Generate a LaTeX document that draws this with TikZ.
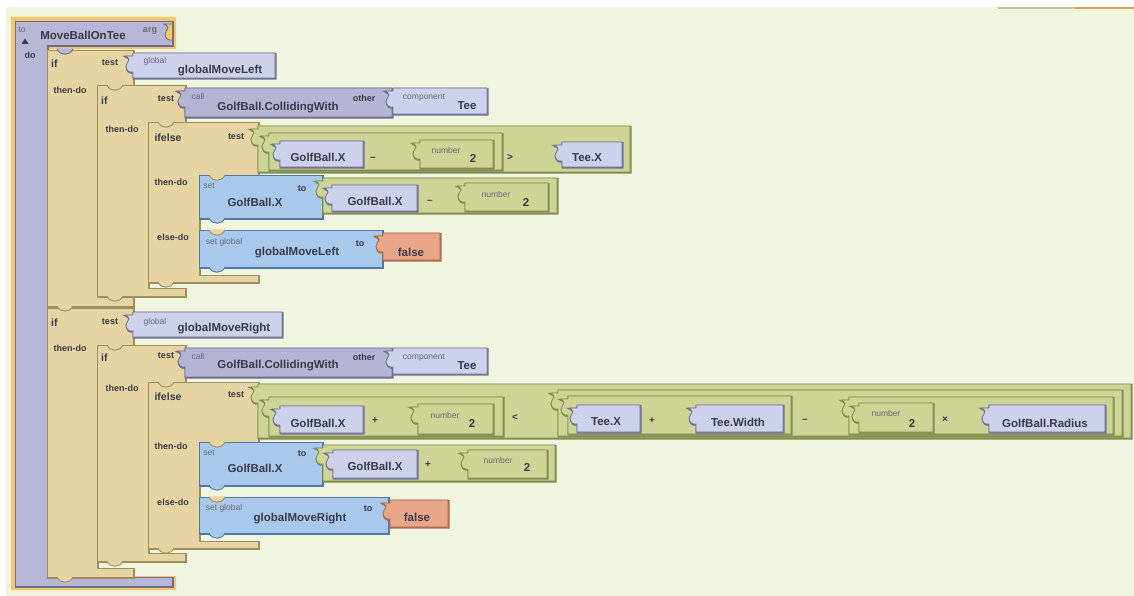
\documentclass[tikz,border=0pt]{standalone}
\usepackage{fontspec}
\setmainfont{Liberation Sans}
\definecolor{bgc}{RGB}{239,245,223}
\definecolor{halo}{RGB}{246,198,106}
\definecolor{procc}{RGB}{182,182,214}
\definecolor{procd}{RGB}{108,108,140}
\definecolor{callc}{RGB}{180,180,212}
\definecolor{calld}{RGB}{108,108,140}
\definecolor{getc}{RGB}{206,209,235}
\definecolor{getd}{RGB}{112,114,146}
\definecolor{tanc}{RGB}{230,212,163}
\definecolor{tand}{RGB}{160,142,92}
\definecolor{grnc}{RGB}{206,211,150}
\definecolor{grnd}{RGB}{128,138,76}
\definecolor{setc}{RGB}{168,201,236}
\definecolor{setd}{RGB}{84,120,166}
\definecolor{falc}{RGB}{234,166,136}
\definecolor{fald}{RGB}{168,104,76}
\definecolor{txt}{RGB}{58,58,74}
\definecolor{smtxt}{RGB}{104,104,124}
\tikzset{
 blk/.style={line width=0.8pt, line join=round,
   preaction={draw=#1, line width=1.8pt, transform canvas={shift={(0.6pt,-0.8pt)}}}},
 tanb/.style={blk=tand, fill=tanc, draw=tand},
 procb/.style={blk=procd, fill=procc, draw=procd},
 callb/.style={blk=calld, fill=callc, draw=calld},
 getb/.style={blk=getd, fill=getc, draw=getd},
 grnb/.style={blk=grnd, fill=grnc, draw=grnd},
 setb/.style={blk=setd, fill=setc, draw=setd},
 falseb/.style={blk=fald, fill=falc, draw=fald},
 lbl/.style={font=\fontsize{11.5}{12}\selectfont\bfseries, text=txt, inner sep=0pt},
 kw/.style={font=\fontsize{9}{10}\selectfont\bfseries, text=txt, inner sep=0pt},
 kwb/.style={font=\fontsize{10.5}{11}\selectfont\bfseries, text=txt, inner sep=0pt},
 sm/.style={font=\fontsize{8.5}{9}\selectfont, text=smtxt, inner sep=0pt},
 op/.style={font=\fontsize{10}{10}\selectfont\bfseries, text=txt, inner sep=0pt},
}
% value block with left puzzle tab: style, x1, y1, x2, y2
\newcommand\vblk[5]{%
 \path[#1] (#2,#3) -- (#4,#3) -- (#4,#5) -- (#2,#5) -- ({#2},{#3+19})
  .. controls ({#2-4},{#3+20}) and ({#2-7},{#3+17}) .. ({#2-7},{#3+13})
  .. controls ({#2-7},{#3+10}) and ({#2-4},{#3+9}) .. ({#2-4},{#3+7})
  .. controls ({#2-4},{#3+5}) and ({#2-6},{#3+4}) .. ({#2-8},{#3+3})
  -- ({#2},{#3+3}) -- cycle;}
% statement tab: fill colour, draw colour, x, y
\newcommand\stab[4]{%
 \fill[#1] ({#3},{#4-0.6}) .. controls ({#3+3},{#4+7}) and ({#3+13},{#4+7}) .. ({#3+16},{#4-0.6}) -- cycle;
 \draw[#2, line width=0.9pt] ({#3},{#4}) .. controls ({#3+3},{#4+7}) and ({#3+13},{#4+7}) .. ({#3+16},{#4});}
\begin{document}
\begin{tikzpicture}[x=1pt,y=-1pt]
\useasboundingbox (0,0) rectangle (1134,596);
\fill[white] (0,0) rectangle (1134,596);
\fill[bgc] (6,7) rectangle (1134,596);
\draw[line width=1.5pt, color={rgb,255:red,196;green,196;blue,160}] (998,8) -- (1075,8);
\draw[line width=1.5pt, color={rgb,255:red,226;green,160;blue,80}] (1075,8) -- (1134,8);

% ---------- procedure ----------
\fill[halo] (11,17) -- (176,17) -- (176,49) -- (47,49) -- (47,576) -- (176,576) -- (176,590) -- (11,590) -- cycle;
\path[procb] (15,21) -- (172,21) -- (172,45) -- (47,45) -- (47,577) -- (172,577) -- (172,586) -- (15,586) -- cycle;
\draw[procd, line width=0.9pt, fill=halo] (172,40) .. controls (168,41) and (165,38) .. (165,34)
  .. controls (165,31) and (168,30) .. (168,28) .. controls (168,26) and (166,25) .. (164,24) -- (172,24);
\node[sm] (pto) at (22,30) {to};
\fill[txt] (21.5,44) -- (28.5,44) -- (25,38.5) -- cycle;
\node[lbl] (pname) at (83,35) {MoveBallOnTee};
\node[kw, text=smtxt] (parg) at (150,31) {arg};
\node[kw] (pdo) at (30,55) {do};

% ---------- if #1 ----------
\path[tanb] (47,50) -- (133,50) -- (133,85) -- (97,85) -- (97,297) -- (133,297) -- (133,306) -- (47,306) -- cycle;
\node[kwb, anchor=west] (if1) at (51,64) {if};
\node[kw] (if1t) at (110,63) {test};
\node[kw] (if1d) at (70,90) {then-do};
\vblk{getb}{133}{53}{275}{78}
\node[sm] (g1s) at (155,61) {global};
\node[lbl] (g1) at (220,71) {globalMoveLeft};

% if #1a
\path[tanb] (97,85) -- (185,85) -- (185,122) -- (148,122) -- (148,288) -- (185,288) -- (185,296) -- (97,296) -- cycle;
\node[kwb, anchor=west] (if1a) at (101,101) {if};
\node[kw] (if1at) at (166,99) {test};
\node[kw] (if1ad) at (122,129) {then-do};
\vblk{callb}{185}{88}{392}{117}
\node[sm] (c1s) at (198,96) {call};
\node[lbl] (c1) at (278,108) {GolfBall.CollidingWith};
\node[kw] (c1o) at (364,98) {other};
\vblk{getb}{393}{88}{487}{114}
\node[sm] (cp1s) at (424,98) {component};
\node[lbl] (cp1) at (467,106) {Tee};

% ifelse #1
\path[tanb] (148,122) -- (258,122) -- (258,175) -- (199,175) -- (199,275) -- (258,275) -- (258,282) -- (148,282) -- cycle;
\node[kwb] (ie1) at (168,138) {ifelse};
\node[kw] (ie1t) at (236,137) {test};
\node[kw] (ie1d) at (171,182) {then-do};
\node[kw] (ie1e) at (173,237) {else-do};
\vblk{grnb}{258}{126}{630}{172}
\vblk{grnb}{269}{133}{502}{170}
\vblk{getb}{280}{141}{363}{167}
\node[lbl] (a1) at (318,157) {GolfBall.X};
\node[op] (a1o) at (373,159) {–};
\vblk{grnb}{420}{140}{493}{168}
\node[sm] (a1ns) at (446,150) {number};
\node[lbl] (a1n) at (473,158) {2};
\node[op] (a1c) at (510,158) {>};
\vblk{getb}{562}{142}{622}{167}
\node[lbl] (a1t) at (587,158) {Tee.X};

% set #1
\path[setb] (199,175) -- (322,175) -- (322,218) -- (199,218) -- cycle;
\node[sm] (s1s) at (209,186) {set};
\node[lbl] (s1) at (255,202) {GolfBall.X};
\node[kw] (s1to) at (302,189) {to};
\vblk{grnb}{323}{178}{557}{213}
\vblk{getb}{332}{185}{417}{211}
\node[lbl] (b1) at (375,201) {GolfBall.X};
\node[op] (b1o) at (430,202) {–};
\vblk{grnb}{465}{183}{548}{211}
\node[sm] (b1ns) at (496,194) {number};
\node[lbl] (b1n) at (526,202) {2};

% set global #1
\path[setb] (199,230) -- (382,230) -- (382,267) -- (199,267) -- cycle;
\node[sm] (sg1s) at (224,242) {set global};
\node[lbl] (sg1) at (297,253) {globalMoveLeft};
\node[kw] (sg1to) at (360,244) {to};
\vblk{falseb}{383}{233}{440}{260}
\node[lbl] (f1) at (411,252) {false};

% ---------- if #2 ----------
\path[tanb] (47,308) -- (133,308) -- (133,345) -- (97,345) -- (97,568) -- (133,568) -- (133,577) -- (47,577) -- cycle;
\node[kwb, anchor=west] (if2) at (51,323) {if};
\node[kw] (if2t) at (110,322) {test};
\node[kw] (if2d) at (70,348) {then-do};
\vblk{getb}{133}{312}{282}{337}
\node[sm] (g2s) at (155,322) {global};
\node[lbl] (g2) at (224,329) {globalMoveRight};

% if #2a
\path[tanb] (97,345) -- (185,345) -- (185,382) -- (148,382) -- (148,553) -- (185,553) -- (185,561) -- (97,561) -- cycle;
\node[kwb, anchor=west] (if2a) at (101,358) {if};
\node[kw] (if2at) at (166,356) {test};
\node[kw] (if2ad) at (122,388) {then-do};
\vblk{callb}{185}{348}{392}{377}
\node[sm] (c2s) at (198,356) {call};
\node[lbl] (c2) at (278,366) {GolfBall.CollidingWith};
\node[kw] (c2o) at (364,357) {other};
\vblk{getb}{393}{348}{487}{374}
\node[sm] (cp2s) at (424,358) {component};
\node[lbl] (cp2) at (467,366) {Tee};

% ifelse #2
\path[tanb] (148,382) -- (258,382) -- (258,442) -- (199,442) -- (199,541) -- (258,541) -- (258,548) -- (148,548) -- cycle;
\node[kwb] (ie2) at (168,397) {ifelse};
\node[kw] (ie2t) at (236,395) {test};
\node[kw] (ie2d) at (171,446) {then-do};
\node[kw] (ie2e) at (173,502) {else-do};
\vblk{grnb}{258}{384}{1131}{438}
\vblk{grnb}{269}{397}{503}{436}
\vblk{getb}{280}{406}{363}{433}
\node[lbl] (a2) at (318,423) {GolfBall.X};
\node[op] (a2o) at (375,421) {+};
\vblk{grnb}{418}{404}{493}{434}
\node[sm] (a2ns) at (445,415) {number};
\node[lbl] (a2n) at (472,423) {2};
\node[op] (a2c) at (515,417) {<};
\vblk{grnb}{558}{390}{1122}{436}
\vblk{grnb}{568}{396}{791}{434}
\vblk{getb}{577}{405}{640}{432}
\node[lbl] (r1) at (606,422) {Tee.X};
\node[op] (r1o) at (652,421) {+};
\vblk{getb}{696}{405}{783}{432}
\node[lbl] (r2) at (738,422) {Tee.Width};
\node[op] (r2o) at (805,421) {–};
\vblk{grnb}{849}{397}{1113}{434}
\vblk{grnb}{859}{403}{933}{432}
\node[sm] (r3s) at (886,413) {number};
\node[lbl] (r3) at (912,423) {2};
\node[op] (r3o) at (945,420) {×};
\vblk{getb}{989}{405}{1105}{432}
\node[lbl] (r4) at (1045,423) {GolfBall.Radius};

% set #2
\path[setb] (199,442) -- (322,442) -- (322,485) -- (199,485) -- cycle;
\node[sm] (s2s) at (209,453) {set};
\node[lbl] (s2) at (255,468) {GolfBall.X};
\node[kw] (s2to) at (302,454) {to};
\vblk{grnb}{323}{445}{555}{481}
\vblk{getb}{333}{450}{417}{478}
\node[lbl] (b2) at (375,466) {GolfBall.X};
\node[op] (b2o) at (428,465) {+};
\vblk{grnb}{468}{450}{547}{478}
\node[sm] (b2ns) at (498,460) {number};
\node[lbl] (b2n) at (527,467) {2};

% set global #2
\path[setb] (199,497) -- (388,497) -- (388,533) -- (199,533) -- cycle;
\node[sm] (sg2s) at (224,508) {set global};
\node[lbl] (sg2) at (300,519) {globalMoveRight};
\node[kw] (sg2to) at (368,509) {to};
\vblk{falseb}{390}{500}{448}{527}
\node[lbl] (f2) at (417,517) {false};

% ---------- statement tabs ----------
\stab{procc}{procd}{57}{49}
\stab{tanc}{tand}{107}{85}
\stab{tanc}{tand}{158}{122}
\stab{tanc}{tand}{209}{175}
\stab{tanc}{tand}{209}{230}
\stab{setc}{setd}{209}{218}
\stab{setc}{setd}{209}{267}
\stab{tanc}{tand}{158}{282}
\stab{tanc}{tand}{107}{296}
\stab{tanc}{tand}{57}{306}
\stab{tanc}{tand}{107}{345}
\stab{tanc}{tand}{158}{382}
\stab{tanc}{tand}{209}{442}
\stab{tanc}{tand}{209}{497}
\stab{setc}{setd}{209}{485}
\stab{setc}{setd}{209}{533}
\stab{tanc}{tand}{158}{548}
\stab{tanc}{tand}{107}{561}
\stab{tanc}{tand}{57}{577}
\end{tikzpicture}
\end{document}
